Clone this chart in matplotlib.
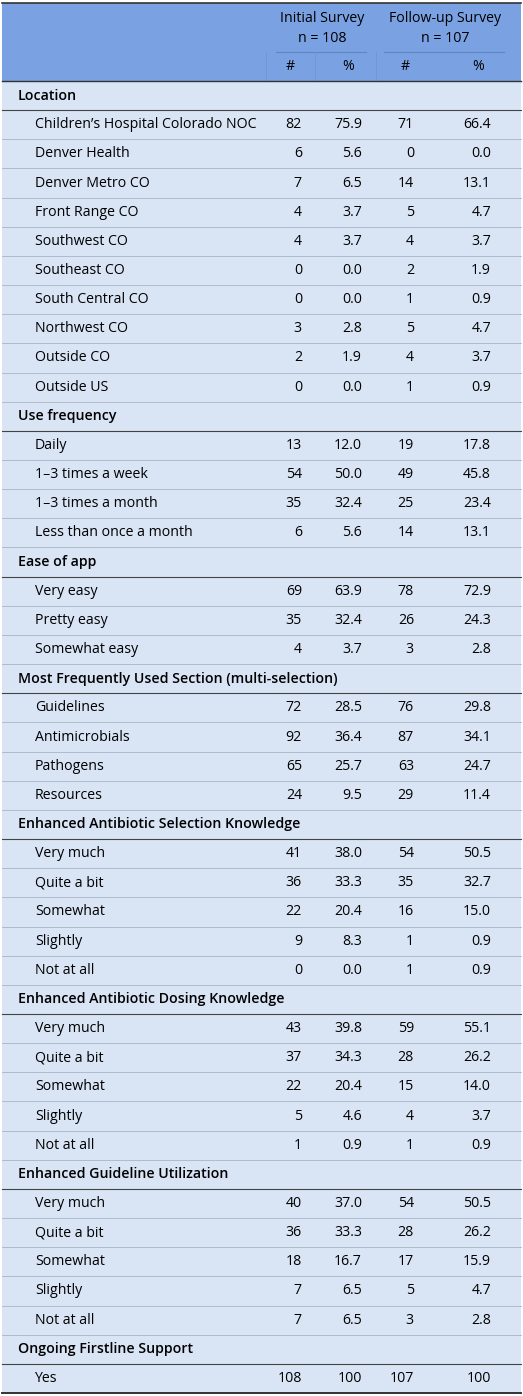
import matplotlib
matplotlib.use("Agg")
import matplotlib.pyplot as plt

# sections: (title, items, initial #, initial %, follow-up #, follow-up %)
sections = ["Location", "Use frequency", "Ease of app",
            "Most Frequently Used Section (multi-selection)",
            "Enhanced Antibiotic Selection Knowledge",
            "Enhanced Antibiotic Dosing Knowledge",
            "Enhanced Guideline Utilization", "Ongoing Firstline Support"]
likert = ["Very much", "Quite a bit", "Somewhat", "Slightly", "Not at all"]
items = [
    ["Children\u2019s Hospital Colorado NOC", "Denver Health", "Denver Metro CO",
     "Front Range CO", "Southwest CO", "Southeast CO", "South Central CO",
     "Northwest CO", "Outside CO", "Outside US"],
    ["Daily", "1\u20133 times a week", "1\u20133 times a month", "Less than once a month"],
    ["Very easy", "Pretty easy", "Somewhat easy"],
    ["Guidelines", "Antimicrobials", "Pathogens", "Resources"],
    likert, likert, likert, ["Yes"],
]
init_n = [[82, 6, 7, 4, 4, 0, 0, 3, 2, 0], [13, 54, 35, 6], [69, 35, 4],
          [72, 92, 65, 24], [41, 36, 22, 9, 0], [43, 37, 22, 5, 1],
          [40, 36, 18, 7, 7], [108]]
init_pct = [["75.9", "5.6", "6.5", "3.7", "3.7", "0.0", "0.0", "2.8", "1.9", "0.0"],
            ["12.0", "50.0", "32.4", "5.6"], ["63.9", "32.4", "3.7"],
            ["28.5", "36.4", "25.7", "9.5"], ["38.0", "33.3", "20.4", "8.3", "0.0"],
            ["39.8", "34.3", "20.4", "4.6", "0.9"], ["37.0", "33.3", "16.7", "6.5", "6.5"],
            ["100"]]
fu_n = [[71, 0, 14, 5, 4, 2, 1, 5, 4, 1], [19, 49, 25, 14], [78, 26, 3],
        [76, 87, 63, 29], [54, 35, 16, 1, 1], [59, 28, 15, 4, 1],
        [54, 28, 17, 5, 3], [107]]
fu_pct = [["66.4", "0.0", "13.1", "4.7", "3.7", "1.9", "0.9", "4.7", "3.7", "0.9"],
          ["17.8", "45.8", "23.4", "13.1"], ["72.9", "24.3", "2.8"],
          ["29.8", "34.1", "24.7", "11.4"], ["50.5", "32.7", "15.0", "0.9", "0.9"],
          ["55.1", "26.2", "14.0", "3.7", "0.9"], ["50.5", "26.2", "15.9", "4.7", "2.8"],
          ["100"]]

HEAD = "#7aa2e3"
BODY = "#d9e4f5"
W, H = 523, 1396
plt.rcParams["font.family"] = ["Open Sans", "DejaVu Sans"]
fig = plt.figure(figsize=(W / 100, H / 100), dpi=100)
ax = fig.add_axes([0, 0, 1, 1])
ax.set_xlim(0, W)
ax.set_ylim(H, 0)
ax.axis("off")

top, head_end, bottom = 3, 81, 1393
ax.add_patch(plt.Rectangle((2, top), W - 4, head_end - top, color=HEAD, lw=0))
ax.add_patch(plt.Rectangle((2, head_end), W - 4, bottom - head_end, color=BODY, lw=0))
fs = 10.2

# header
ax.text(322, 19, "Initial Survey", ha="center", va="center", fontsize=fs)
ax.text(322, 38, "n = 108", ha="center", va="center", fontsize=fs)
ax.text(445, 19, "Follow-up Survey", ha="center", va="center", fontsize=fs)
ax.text(445, 38, "n = 107", ha="center", va="center", fontsize=fs)
ax.plot([276, 366], [52, 52], color="#5f85c4", lw=0.8)
ax.plot([384, 504], [52, 52], color="#5f85c4", lw=0.8)
for x in (266, 315, 376):
    ax.plot([x, x], [52, head_end], color="#6f95d6", lw=0.6)
for x, t in zip((290, 348, 405, 478), ("#", "%", "#", "%")):
    ax.text(x, 67, t, ha="center", va="center", fontsize=fs)

ax.plot([2, W - 2], [top, top], color="#333333", lw=1.2)
ax.plot([2, W - 2], [head_end, head_end], color="#333333", lw=1.0)
ax.plot([2, W - 2], [bottom, bottom], color="#333333", lw=1.4)

rh = (bottom - head_end) / 45
y = head_end
for s, title in enumerate(sections):
    yc = y + rh / 2
    ax.text(18, yc, title, ha="left", va="center", fontsize=fs, fontweight="semibold")
    y += rh
    ax.plot([2, W - 2], [y, y], color="#444444", lw=0.8)
    for i, lab in enumerate(items[s]):
        yc = y + rh / 2
        ax.text(35, yc, lab, ha="left", va="center", fontsize=fs)
        ax.text(302, yc, str(init_n[s][i]), ha="right", va="center", fontsize=fs)
        ax.text(362, yc, init_pct[s][i], ha="right", va="center", fontsize=fs)
        ax.text(414, yc, str(fu_n[s][i]), ha="right", va="center", fontsize=fs)
        ax.text(491, yc, fu_pct[s][i], ha="right", va="center", fontsize=fs)
        y += rh
        if y < bottom - 2:
            ax.plot([2, W - 2], [y, y], color="#a9b3c4", lw=0.6)

fig.savefig("out.png", dpi=100, facecolor="white")
